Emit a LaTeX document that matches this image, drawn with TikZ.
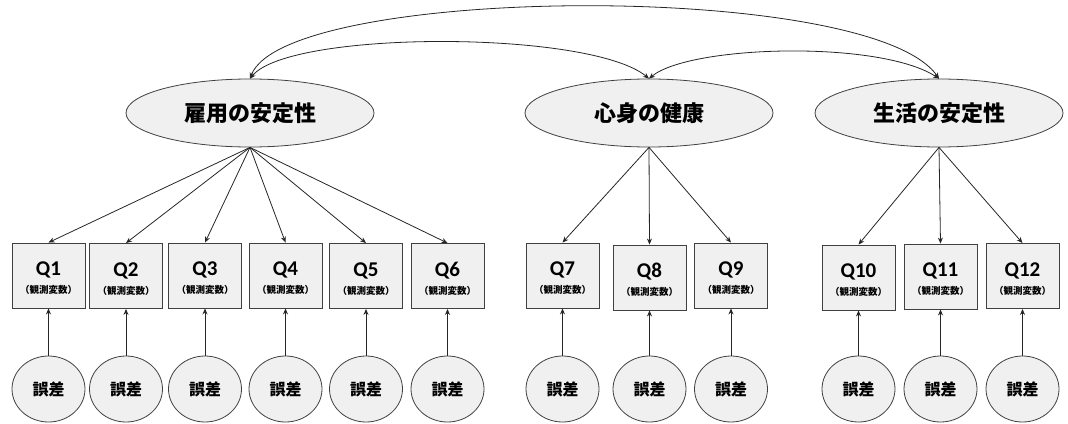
\documentclass[tikz,border=0pt]{standalone}
\usepackage{fontspec}
\usetikzlibrary{shapes.geometric,arrows.meta,calc}
\newfontfamily\jp{Noto Sans CJK JP}
\newfontfamily\carlito{Carlito}
\definecolor{fillg}{HTML}{F0F0F0}
\definecolor{edgeg}{HTML}{404040}
\definecolor{lineg}{HTML}{262626}
\begin{document}
\begin{tikzpicture}[x=1pt,y=-1pt,
  latent/.style={ellipse,draw=edgeg,fill=fillg,line width=0.8pt,minimum width=248pt,minimum height=68pt,inner sep=0pt,font=\jp\bfseries\fontsize{22}{24}\selectfont},
  obs/.style={rectangle,draw=edgeg,fill=fillg,line width=0.9pt,minimum width=73pt,minimum height=65pt,inner sep=0pt},
  qname/.style={inner sep=0pt,font=\carlito\bfseries\fontsize{21}{22}\selectfont},
  qsub/.style={inner sep=0pt,font=\jp\bfseries\fontsize{9.5}{10}\selectfont},
  err/.style={ellipse,draw=edgeg,fill=fillg,line width=0.8pt,minimum width=73pt,minimum height=66pt,inner sep=0pt,font=\jp\bfseries\fontsize{16}{17}\selectfont},
  arr/.style={draw=lineg,line width=0.8pt,-{Stealth[length=6pt,width=5pt]}},
  darr/.style={draw=lineg,line width=0.8pt,{Stealth[length=6pt,width=5pt]}-{Stealth[length=6pt,width=5pt]}}
]
\useasboundingbox (0,0) rectangle (1068,423);
\node[latent] (l1) at (250,113) {雇用の安定性};
\node[latent] (l2) at (649,113) {心身の健康};
\node[latent] (l3) at (939,113) {生活の安定性};
% covariances
\draw[darr] (l1.north) .. controls (285,-15) and (870,-20) .. (l3.north);
\draw[darr] (l1.north) .. controls (290,30) and (590,30) .. (l2.north);
\draw[darr] (l2.north) .. controls (690,45) and (880,40) .. (l3.north);
% observed variables and errors
\foreach \i/\x/\y/\l in {1/48.5/275.5/l1, 2/126/276/l1, 3/205/275.5/l1, 4/285.5/275.5/l1, 5/366/276/l1, 6/447.5/276/l1,
  7/562.5/275.5/l2, 8/649.5/277.5/l2, 9/731/275.5/l2,
  10/858.5/277.5/l3, 11/940.5/276.5/l3, 12/1022.5/276/l3}{
  \node[obs] (q\i) at (\x,\y) {};
  \node[qname] (qn\i) at ($(q\i.center)+(0,-5.5)$) {Q\i};
  \node[qsub] (qs\i) at ($(q\i.center)+(0,14.5)$) {（観測変数）};
  \node[err] (e\i) at (\x,389) {誤差};
  \draw[arr] (e\i.north) -- (q\i.south);
  \draw[arr] (\l.south) -- (q\i.north);
}
\end{tikzpicture}
\end{document}
